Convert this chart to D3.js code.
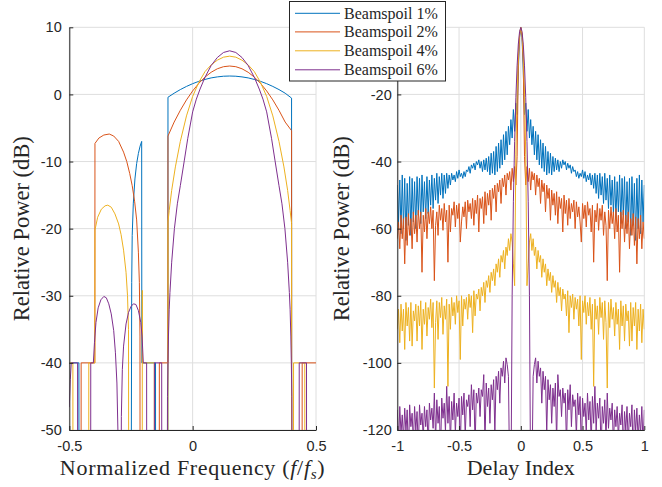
<!DOCTYPE html>
<html>
<head>
<meta charset="utf-8">
<script src="https://cdn.jsdelivr.net/npm/d3@7"></script>
<style>
  html, body { margin: 0; padding: 0; background: #fff; }
  svg { display: block; }
</style>
</head>
<body>
<svg id="chart" width="662" height="487"></svg>
<script>
// ---- Series ----
const seriesNames  = ["Beamspoil 1%", "Beamspoil 2%", "Beamspoil 4%", "Beamspoil 6%"];
const seriesColors = ["#0072BD", "#D95319", "#EDB120", "#7E2F8E"];

// ---- Tick values ----
const freqTicks   = [-0.5, 0, 0.5];
const powerTicksL = [-50, -40, -30, -20, -10, 0, 10];
const delayTicks  = [-1, -0.5, 0, 0.5, 1];
const powerTicksR = [-120, -100, -80, -60, -40, -20];

// ---- Power spectra: [normalized frequency, dB] ----
// Nulls fall below the -50 dB floor of the axes (written as -80) and are clipped.
const spectrum1 = [
  [-0.5,-40],[-0.461,-40],[-0.4605,-80],[-0.2505,-80],[-0.247,-28],[-0.245,-21],
  [-0.2405,-16.2],[-0.234,-12.6],[-0.227,-10.3],[-0.22,-8.8],[-0.213,-7.7],[-0.2066,-7.0],
  [-0.206,-40],[-0.1505,-40],[-0.15,-80],[-0.1005,-80],
  [-0.1,-0.42],[-0.075,0.18],[-0.05,0.72],[-0.025,1.19],[0,1.6],[0.025,1.95],[0.05,2.23],
  [0.075,2.46],[0.1,2.61],[0.125,2.71],[0.15,2.74],[0.175,2.71],[0.2,2.61],[0.225,2.46],
  [0.25,2.23],[0.275,1.95],[0.3,1.6],[0.325,1.19],[0.35,0.72],[0.375,0.18],[0.401,-0.55],
  [0.4015,-80],[0.5,-80]
];
const spectrum2 = [
  [-0.5,-80],[-0.4525,-80],[-0.452,-40],[-0.3965,-40],
  [-0.396,-7.3],[-0.38,-6.5],[-0.36,-6.05],[-0.338,-5.9],[-0.32,-6.2],[-0.3,-7.0],[-0.28,-8.6],
  [-0.267,-10.0],[-0.255,-11.8],[-0.245,-13.6],[-0.235,-16.0],[-0.227,-18.7],[-0.22,-23.5],
  [-0.216,-28],[-0.2135,-36],[-0.213,-80],[-0.1355,-80],[-0.135,-40],[-0.1005,-40],
  [-0.1,-6.2],[-0.075,-4.12],[-0.05,-2.37],[-0.025,-0.82],[0,0.52],[0.025,1.65],[0.05,2.58],
  [0.075,3.30],[0.1,3.82],[0.125,4.13],[0.15,4.23],[0.175,4.13],[0.2,3.82],[0.225,3.30],
  [0.25,2.58],[0.275,1.65],[0.3,0.52],[0.325,-0.82],[0.35,-2.37],[0.375,-4.12],[0.401,-5.4],
  [0.4015,-80],[0.4435,-80],[0.444,-40],[0.5,-40]
];
const spectrum4 = [
  [-0.5,-40],[-0.4855,-40],[-0.485,-80],[-0.4215,-80],[-0.421,-40],[-0.3965,-40],
  [-0.396,-20.2],[-0.385,-18.3],[-0.37,-17.1],[-0.355,-16.6],[-0.344,-16.5],[-0.33,-16.8],
  [-0.315,-17.8],[-0.3,-19.3],[-0.29,-20.9],[-0.28,-23.2],[-0.27,-26.5],[-0.264,-30],
  [-0.26,-35],[-0.2585,-80],[-0.2045,-80],[-0.204,-29.2],[-0.2035,-40],[-0.1555,-40],
  [-0.155,-80],[-0.1005,-80],
  [-0.1,-19],[-0.095,-17.3],[-0.085,-14.3],[-0.07,-10.8],[-0.05,-7.0],[-0.025,-3.2],[0,-0.3],
  [0.025,1.8],[0.05,3.4],[0.075,4.4],[0.1,5.1],[0.125,5.55],[0.15,5.7],[0.175,5.55],[0.2,5.1],
  [0.225,4.4],[0.25,3.4],[0.275,1.8],[0.3,-0.3],[0.325,-3.2],[0.35,-7.0],[0.37,-10.8],
  [0.385,-14.3],[0.395,-17.3],[0.401,-19.2],
  [0.4015,-80],[0.4085,-80],[0.409,-40],[0.4545,-40],[0.455,-80],[0.5,-80]
];
const spectrum6 = [
  [-0.5,-46.6],[-0.496,-42.5],[-0.492,-40],[-0.4665,-40],[-0.466,-80],[-0.4135,-80],
  [-0.413,-40],[-0.4025,-40],
  [-0.398,-37],[-0.392,-34.0],[-0.383,-31.8],[-0.372,-30.6],[-0.36,-30.1],[-0.35,-30.3],
  [-0.34,-31.2],[-0.33,-32.7],[-0.32,-35.2],[-0.313,-38.5],[-0.307,-43],[-0.303,-50],
  [-0.3,-80],[-0.292,-80],[-0.289,-48],[-0.285,-41],[-0.28,-37.5],[-0.27,-34.2],
  [-0.26,-32.5],[-0.25,-31.6],[-0.24,-31.2],[-0.23,-31.3],[-0.22,-32.2],[-0.21,-34.0],
  [-0.205,-36],[-0.2,-40],[-0.1865,-40],[-0.186,-80],[-0.1555,-80],[-0.155,-40],
  [-0.1255,-40],[-0.125,-80],[-0.104,-80],
  [-0.102,-45],[-0.1,-40],[-0.098,-36],[-0.095,-32],[-0.092,-29.5],[-0.085,-25],[-0.074,-20],
  [-0.062,-16.3],[-0.05,-13.6],[-0.034,-9.9],[-0.02,-6.6],[0,-2.6],[0.015,-0.7],[0.03,0.8],
  [0.05,2.55],[0.075,4.3],[0.1,5.5],[0.125,6.25],[0.15,6.5],[0.175,6.25],[0.2,5.5],
  [0.225,4.3],[0.25,2.55],[0.27,0.8],[0.285,-0.7],[0.3,-2.6],[0.32,-6.6],[0.334,-9.9],
  [0.35,-13.6],[0.362,-16.3],[0.374,-20],[0.385,-25],[0.392,-29.5],[0.395,-32],[0.398,-36],
  [0.4,-40],[0.402,-45],[0.404,-80],
  [0.4315,-80],[0.432,-40],[0.4615,-40],[0.462,-80],[0.5,-80]
];

// ---- Delay response (dB) at delays 0, 0.01, ... 1; the response is even in delay ----
// Values under -120 dB lie below the axes and are clipped.
const delayStep = 0.01;
const delay1Half = [
  0, -3, -13, -26, -22.6, -31, -24.5, -33, -27.5, -35,
  -29.5, -38, -31, -39.5, -32, -41, -33.5, -42, -34.5, -43,
  -35.5, -44, -37, -43.5, -37.5, -44, -38.5, -43, -39, -42.5,
  -39.5, -43, -40, -42, -39.5, -41, -40, -42.5, -40.5, -42,
  -41, -43.5, -41.5, -43, -42.5, -44.5, -43, -45, -43.5, -44.5,
  -42.5, -45, -43, -46, -44, -45.5, -43.5, -47, -44, -48,
  -43.5, -49.5, -44, -51, -43.5, -50, -44.5, -52.5, -43.5, -51.5,
  -45, -54, -44, -53, -45.5, -55.5, -44.5, -57, -46, -55,
  -44, -58.5, -45, -56, -44.5, -60, -46, -58, -45, -62,
  -44.5, -59, -46.5, -63.5, -45, -60, -44, -61.5, -45.5, -58,
  -47
];
const delay2Half = [
  0, -2.5, -11, -38.5, -47, -41.5, -46, -42, -48.5, -43,
  -45.5, -43.5, -50, -44, -47.5, -45, -52.5, -45.5, -49, -46.5,
  -55, -47, -51, -48, -57.5, -48.5, -53, -49.5, -56, -49,
  -58.5, -50.5, -54, -51, -61, -50, -55.5, -51.5, -59, -51,
  -57, -52.5, -55, -51.5, -60, -52, -56.5, -53.5, -58, -64,
  -52.5, -57, -53, -59.5, -52, -56, -54, -61, -53, -70,
  -54.5, -58, -52.5, -60.5, -54, -57.5, -53, -62, -55, -59,
  -75.5, -54.5, -60, -53.5, -58.5, -55, -63, -54, -61, -56,
  -73, -55, -60, -54.5, -64, -56, -61.5, -55, -66, -57,
  -62, -55.5, -65, -56.5, -70.5, -57, -63, -56, -66, -58,
  -63
];
const delay4Half = [
  0, -2, -8, -19, -38, -77, -70.5, -64, -61.5, -66.5,
  -63, -68, -65.5, -72, -66.5, -70, -68, -74.5, -69, -73,
  -70.5, -77, -72, -75.5, -73, -79, -74, -77.5, -75.5, -82,
  -76, -80, -77.5, -84.5, -78, -81, -79.5, -86, -78.5, -91,
  -80, -83.5, -79.5, -87, -80.5, -84, -81, -89, -80, -99,
  -81.5, -85, -80, -88.5, -82, -86, -80.5, -90, -82.5, -107,
  -81, -87, -83, -91.5, -80.5, -86.5, -82, -93, -81.5, -88,
  -107.5, -82, -89.5, -81, -87, -83.5, -92, -82, -88.5, -84,
  -96, -81.5, -89, -83, -93.5, -82.5, -87.5, -84.5, -95, -82,
  -93.5, -83.5, -89, -82, -96, -84, -90.5, -82.5, -94, -84,
  -90
];
const delay6Half = [
  0, -1.3, -5, -11.5, -21, -34, -52, -80, -140, -135,
  -104, -100.5, -98.5, -106, -99.5, -104, -101.5, -112, -102.5, -108,
  -104, -121, -105, -111, -106.5, -118, -107.5, -113, -106, -124,
  -103.5, -110, -108, -116, -107.5, -112, -109, -125, -108, -114,
  -106.5, -119, -109.5, -113, -111, -122, -109, -115.5, -110, -126,
  -110.5, -116, -112, -121, -109, -117, -111.5, -124, -110, -118,
  -107, -120.5, -112, -116.5, -110.5, -127, -113, -118, -111, -123,
  -109, -119.5, -113.5, -117, -112, -125, -114, -119, -113, -122.5,
  -115, -118.5, -112.5, -126, -114.5, -120, -113, -124, -115, -119,
  -112.5, -128, -114, -120.5, -113.5, -123, -115.5, -121, -113, -125,
  -114
];

// ---- Drawing ----
const svg = d3.select("#chart");
const SANS  = "'Liberation Sans', Arial, Helvetica, sans-serif";
const SERIF = "'Liberation Serif', 'Times New Roman', serif";
const INK = "#262626";
const GRID = "#dedede";

// Expand a half response (delay >= 0) into the full even response over [-1, 1].
function fullResponse(half) {
  const pts = half.map((v, i) => [i * delayStep, v]);
  const neg = pts.slice(1).reverse().map(([d, v]) => [-d, v]);
  return neg.concat(pts);
}

function drawPanel(opt) {
  const { id, x, y, xTicks, yTicks, yGrid, series, yPad } = opt;
  const [x0, x1] = x.range();
  const [yb, yt] = y.range();
  const g = svg.append("g");

  svg.append("clipPath").attr("id", id)
    .append("rect").attr("x", x0).attr("y", yt).attr("width", x1 - x0).attr("height", yb - yt);

  // grid
  g.append("g").selectAll("line").data(xTicks).join("line")
    .attr("x1", d => x(d)).attr("x2", d => x(d)).attr("y1", yb).attr("y2", yt)
    .attr("stroke", GRID).attr("stroke-width", 1);
  g.append("g").selectAll("line").data(yGrid).join("line")
    .attr("x1", x0).attr("x2", x1).attr("y1", d => y(d)).attr("y2", d => y(d))
    .attr("stroke", GRID).attr("stroke-width", 1);

  // data
  const line = d3.line().x(d => x(d[0])).y(d => y(d[1]));
  const lg = g.append("g").attr("clip-path", `url(#${id})`);
  series.forEach((s, i) => {
    lg.append("path").datum(s)
      .attr("d", line)
      .attr("fill", "none")
      .attr("stroke", seriesColors[i])
      .attr("stroke-width", 1)
      .attr("stroke-linejoin", "round");
  });

  // axes (ticks point inward)
  const fmt = d => String(d);
  const ax = g.append("g").attr("transform", `translate(0,${yb})`)
    .call(d3.axisBottom(x).tickValues(xTicks).tickFormat(fmt).tickSize(-4).tickSizeOuter(0).tickPadding(10.5));
  const ay = g.append("g").attr("transform", `translate(${x0},0)`)
    .call(d3.axisLeft(y).tickValues(yTicks).tickFormat(fmt).tickSize(-4).tickSizeOuter(0).tickPadding(yPad));
  [ax, ay].forEach(a => {
    a.attr("font-family", SANS);
    a.select(".domain").attr("stroke", INK).attr("stroke-width", 1);
    a.selectAll(".tick line").attr("stroke", INK).attr("stroke-width", 1);
    a.selectAll(".tick text").attr("fill", INK).attr("font-family", SANS).attr("font-size", "14.5px");
  });
}

// Left: spectra
const xL = d3.scaleLinear().domain([-0.5, 0.5]).range([69.3, 316]);
const yL = d3.scaleLinear().domain([-50, 10]).range([430, 27.3]);
drawPanel({
  id: "clipL", x: xL, y: yL, xTicks: freqTicks, yTicks: powerTicksL, yGrid: powerTicksL,
  series: [spectrum1, spectrum2, spectrum4, spectrum6], yPad: 7.6
});

// Right: delay response
const xR = d3.scaleLinear().domain([-1, 1]).range([397.3, 644.3]);
const yR = d3.scaleLinear().domain([-120, 0]).range([430, 27.3]);
drawPanel({
  id: "clipR", x: xR, y: yR, xTicks: delayTicks, yTicks: powerTicksR, yGrid: powerTicksR.concat([0]),
  series: [delay1Half, delay2Half, delay4Half, delay6Half].map(fullResponse), yPad: 5.6
});

// axis titles
function yTitle(cx, cy) {
  svg.append("text")
    .attr("transform", `translate(${cx},${cy}) rotate(-90)`)
    .attr("text-anchor", "middle")
    .attr("font-family", SERIF).attr("font-size", "22.5px").attr("fill", INK)
    .text("Relative Power (dB)");
}
yTitle(28.5, 228.7);
yTitle(348.5, 228.7);

const xt = svg.append("text")
  .attr("x", 192.6).attr("y", 474.5)
  .attr("text-anchor", "middle")
  .attr("font-family", SERIF).attr("font-size", "22px").attr("fill", INK)
  .attr("letter-spacing", "0.7px");
xt.append("tspan").text("Normalized Frequency (");
xt.append("tspan").attr("font-style", "italic").text("f");
xt.append("tspan").text("/");
xt.append("tspan").attr("font-style", "italic").text("f");
xt.append("tspan").attr("font-style", "italic").attr("font-size", "15px").attr("dy", 4).text("s");
xt.append("tspan").attr("dy", -4).text(")");

svg.append("text")
  .attr("x", 520.8).attr("y", 474.5)
  .attr("text-anchor", "middle")
  .attr("font-family", SERIF).attr("font-size", "22px").attr("fill", INK)
  .text("Delay Index");

// legend
const lgd = svg.append("g");
lgd.append("rect")
  .attr("x", 289.5).attr("y", 1.5).attr("width", 156).attr("height", 79.5)
  .attr("fill", "#fff").attr("stroke", INK).attr("stroke-width", 1);
const rowY = [13.3, 31.9, 50.8, 69.8];
seriesNames.forEach((name, i) => {
  lgd.append("line")
    .attr("x1", 295).attr("x2", 340).attr("y1", rowY[i]).attr("y2", rowY[i])
    .attr("stroke", seriesColors[i]).attr("stroke-width", 1);
  lgd.append("text")
    .attr("x", 344).attr("y", rowY[i] + 5.2)
    .attr("font-family", SERIF).attr("font-size", "16px").attr("fill", INK)
    .text(name);
});
</script>
</body>
</html>
